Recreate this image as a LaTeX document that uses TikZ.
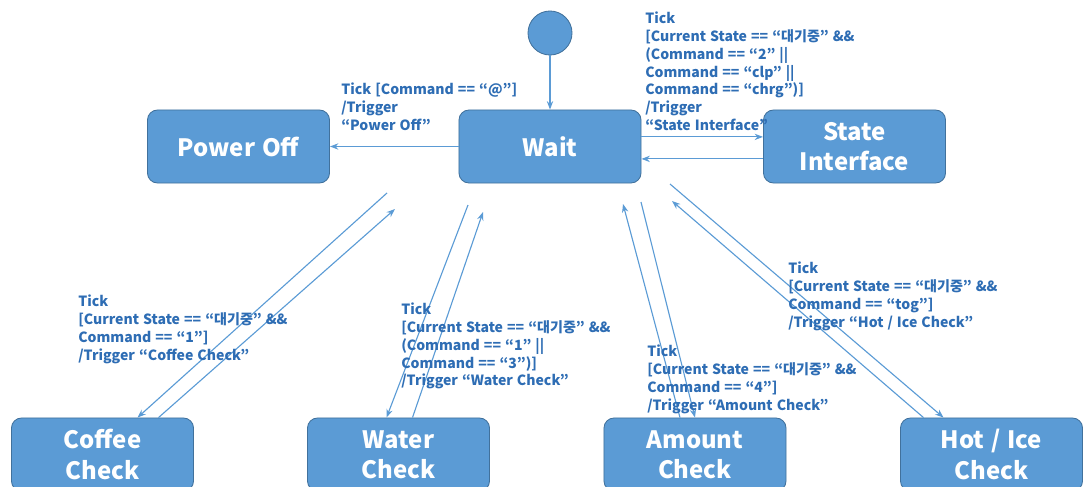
\documentclass[tikz,border=0pt]{standalone}
\usepackage{fontspec}
\setmainfont{Noto Sans CJK KR}[WordSpace=1.25]
\usetikzlibrary{arrows.meta, positioning, calc}
\definecolor{boxfill}{HTML}{5B9BD5}
\definecolor{boxline}{HTML}{41719C}
\definecolor{labelblue}{HTML}{2E6DB4}
\tikzset{
    state_box/.style={rectangle, draw=boxline, fill=boxfill, rounded corners=0.25cm, text=white, font=\fontsize{17}{21.5}\selectfont\bfseries, align=center, minimum width=4.55cm, minimum height=1.825cm, line width=0.6pt},
    init_dot/.style={circle, draw=boxline, fill=boxfill, minimum size=1.1cm, inner sep=0pt, line width=0.6pt},
    arrow/.style={-{Stealth[length=6pt, width=4.5pt]}, draw=boxfill, line width=0.8pt},
    trans_label/.style={anchor=north west, align=left, text=labelblue, font=\fontsize{10}{12.6}\selectfont\bfseries, inner sep=0pt}
}

\begin{document}
\begin{tikzpicture}[x=0.025cm, y=-0.025cm]
    \clip (0,0) rectangle (1088,487);
    % states
    \node (init) [init_dot] at (550,33) {};
    \node (wait) [state_box] at (550,146.5) {Wait};
    \node (poweroff) [state_box] at (238.5,146.5) {Power Off};
    \node (stateif) [state_box] at (854.5,146.5) {State\\Interface};
    \node (coffee) [state_box] at (102.5,454.5) {Coffee\\Check};
    \node (water) [state_box] at (398.5,454.5) {Water\\Check};
    \node (amount) [state_box] at (695,454.5) {Amount\\Check};
    \node (hotice) [state_box] at (991.5,454.5) {Hot / Ice\\Check};

    % free ends near Wait
    \coordinate (w_cof_out) at (387,193);
    \coordinate (w_cof_in) at (395,209);
    \coordinate (w_wat_out) at (468,205);
    \coordinate (w_wat_in) at (483,212);
    \coordinate (w_amt_in) at (623,204);
    \coordinate (w_amt_out) at (641,202);
    \coordinate (w_hot_out) at (670,184);
    \coordinate (w_hot_in) at (672,201);

    \draw [arrow] (init) -- (wait);
    \draw [arrow] (wait) -- (poweroff);
    \draw [arrow] ([yshift=0.24cm]wait.east) -- ([yshift=0.24cm]wait.east -| stateif.west);
    \draw [arrow] ([yshift=-0.31cm]stateif.west) -- ([yshift=-0.31cm]stateif.west -| wait.east);
    \draw [arrow] (w_cof_out) -- ($(coffee.north)+(35,0)$);
    \draw [arrow] ($(coffee.north)+(56,0)$) -- (w_cof_in);
    \draw [arrow] (w_wat_out) -- ($(water.north)+(-12,0)$);
    \draw [arrow] ($(water.north)+(14,0)$) -- (w_wat_in);
    \draw [arrow] ($(amount.north)+(-15,0)$) -- (w_amt_in);
    \draw [arrow] (w_amt_out) -- (amount.north);
    \draw [arrow] (w_hot_out) -- ($(hotice.north)+(-48,0)$);
    \draw [arrow] ($(hotice.north)+(-68,0)$) -- (w_hot_in);

    % guards and triggers
    \node (lbl_pw) [trans_label] at (341,83) {Tick [Command == “@”]\\/Trigger\\“Power Off”};
    \node (lbl_si) [trans_label] at (645,12) {Tick\\{[}Current State == “대기중” \&\&\\(Command == “2” ||\\Command == “clp” ||\\Command == “chrg”)]\\/Trigger\\“State Interface”};
    \node (lbl_cof) [trans_label] at (78,295) {Tick\\{[}Current State == “대기중” \&\&\\Command == “1”]\\/Trigger “Coffee Check”};
    \node (lbl_wat) [trans_label] at (401,303) {Tick\\{[}Current State == “대기중” \&\&\\(Command == “1” ||\\Command == “3”)]\\/Trigger “Water Check”};
    \node (lbl_amt) [trans_label] at (647,345) {Tick\\{[}Current State == “대기중” \&\&\\Command == “4”]\\/Trigger “Amount Check”};
    \node (lbl_hot) [trans_label] at (788,262) {Tick\\{[}Current State == “대기중” \&\&\\Command == “tog”]\\/Trigger “Hot / Ice Check”};
\end{tikzpicture}
\end{document}
